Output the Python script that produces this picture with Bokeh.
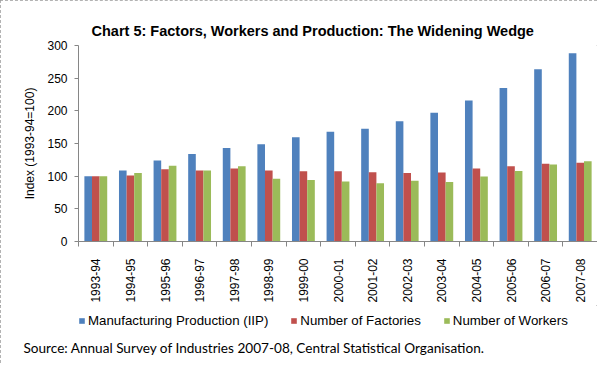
import math
from bokeh.plotting import figure
from bokeh.layouts import column
from bokeh.models import Range1d, FixedTicker, Legend, LegendItem, Title, ColumnDataSource
from bokeh.transform import dodge
from bokeh.embed import file_html
from bokeh.resources import INLINE

years = ["1993-94", "1994-95", "1995-96", "1996-97", "1997-98", "1998-99", "1999-00",
         "2000-01", "2001-02", "2002-03", "2003-04", "2004-05", "2005-06", "2006-07", "2007-08"]
iip = [100, 108.6, 124, 134, 143, 149, 159.5, 168, 172.7, 184, 197, 215.7, 235, 263.6, 288]
factories = [100, 101, 110.6, 108.6, 111.7, 108.6, 107.6, 107.6, 106, 105, 105.6, 111.7, 115, 119, 120.7]
workers = [100, 105, 115.8, 108.6, 115, 96, 94, 92, 89, 93, 91, 99.5, 108, 118, 123]
series_names = ["Manufacturing Production (IIP)", "Number of Factories", "Number of Workers"]
series_cols = ["iip", "fac", "wrk"]
y_ticks = [0, 50, 100, 150, 200, 250, 300]
chart_title = "Chart 5: Factors, Workers and Production: The Widening Wedge"
source_note = "Source: Annual Survey of Industries 2007-08, Central Statistical Organisation."

BLUE, RED, GREEN = "#4F81BD", "#C0504D", "#9BBB59"
COLORS = [BLUE, RED, GREEN]
AXIS = "#868686"
FONT = "Liberation Sans"

idx = list(range(len(years)))
src = ColumnDataSource(dict(x=idx, iip=iip, fac=factories, wrk=workers))

W = 597
p = figure(width=W, height=305, output_backend="svg", toolbar_location=None,
           x_range=Range1d(-0.5, len(years) - 0.5), y_range=Range1d(0, 300),
           min_border_left=78, min_border_right=0, min_border_top=45, min_border_bottom=63)
p.outline_line_color = None
p.xgrid.visible = False
p.ygrid.visible = False
p.background_fill_color = "white"
p.border_fill_color = "white"

bw = 0.22
for k, (col, color) in enumerate(zip(series_cols, COLORS)):
    p.vbar(x=dodge("x", (k - 1) * bw, range=p.x_range), top=col, width=bw, source=src,
           fill_color=color, line_color=None)

# x axis
xa = p.xaxis[0]
xa.ticker = FixedTicker(ticks=idx, minor_ticks=[i - 0.5 for i in range(len(years) + 1)])
xa.major_label_overrides = {i: y for i, y in enumerate(years)}
xa.major_label_orientation = math.pi / 2
xa.major_tick_line_color = None
xa.major_tick_in = 0
xa.major_tick_out = 0
xa.minor_tick_in = 0
xa.minor_tick_out = 5
xa.minor_tick_line_color = AXIS
xa.axis_line_color = AXIS
xa.major_label_standoff = 12
xa.major_label_text_font = FONT
xa.major_label_text_font_size = "12px"
xa.major_label_text_color = "#000000"

# y axis
ya = p.yaxis[0]
ya.ticker = FixedTicker(ticks=y_ticks)
ya.minor_tick_line_color = None
ya.major_tick_in = 0
ya.major_tick_out = 4
ya.major_tick_line_color = AXIS
ya.axis_line_color = AXIS
ya.major_label_standoff = 7
ya.major_label_text_font = FONT
ya.major_label_text_font_size = "12px"
ya.major_label_text_color = "#000000"
ya.axis_label = "Index (1993-94=100)"
ya.axis_label_text_font = FONT
ya.axis_label_text_font_size = "12px"
ya.axis_label_text_font_style = "normal"
ya.axis_label_text_color = "#000000"
ya.axis_label_standoff = 7

p.title.text = chart_title
p.title.align = "left"
p.title.offset = 13
p.title.standoff = 12
p.title.vertical_align = "middle"
p.title.text_font = FONT
p.title.text_font_size = "14.5px"
p.title.text_font_style = "bold"
p.title.text_color = "#000000"

# footer figure: legend + source note
p2 = figure(width=W, height=58, output_backend="svg", toolbar_location=None,
            x_range=Range1d(-0.5, len(years) - 0.5), y_range=Range1d(0, 300),
            min_border_left=78, min_border_right=0, min_border_top=0, min_border_bottom=23)
p2.axis.visible = False
p2.xgrid.visible = False
p2.ygrid.visible = False
p2.outline_line_color = None
p2.background_fill_color = "white"
p2.border_fill_color = "white"

items = []
for name, col, color in zip(series_names, series_cols, COLORS):
    # zero-height bars: only their legend swatch is seen
    r = p2.vbar(x="x", bottom=col, top=col, width=bw, source=src,
                fill_color=color, line_color=None)
    items.append(LegendItem(label=name, renderers=[r]))

legend = Legend(items=items, location=(0, 1), orientation="horizontal",
                glyph_width=7, glyph_height=7, label_standoff=3, spacing=22,
                padding=0, margin=0, border_line_color=None, background_fill_alpha=0,
                label_text_font=FONT, label_text_font_size="13.3px", label_height=14,
                label_text_color="#000000")
p2.add_layout(legend, "center")

p2.add_layout(Title(text=source_note, align="left", offset=-55, standoff=16, vertical_align="bottom",
                    text_font="Lato", text_font_size="13.6px", text_font_style="normal",
                    text_color="#000000"), "below")

layout = column(p, p2, spacing=0)
layout.styles = {"outline": "1px dashed #9a9a9a", "outline-offset": "-1px"}

open("out.html", "w").write(file_html(layout, INLINE))
